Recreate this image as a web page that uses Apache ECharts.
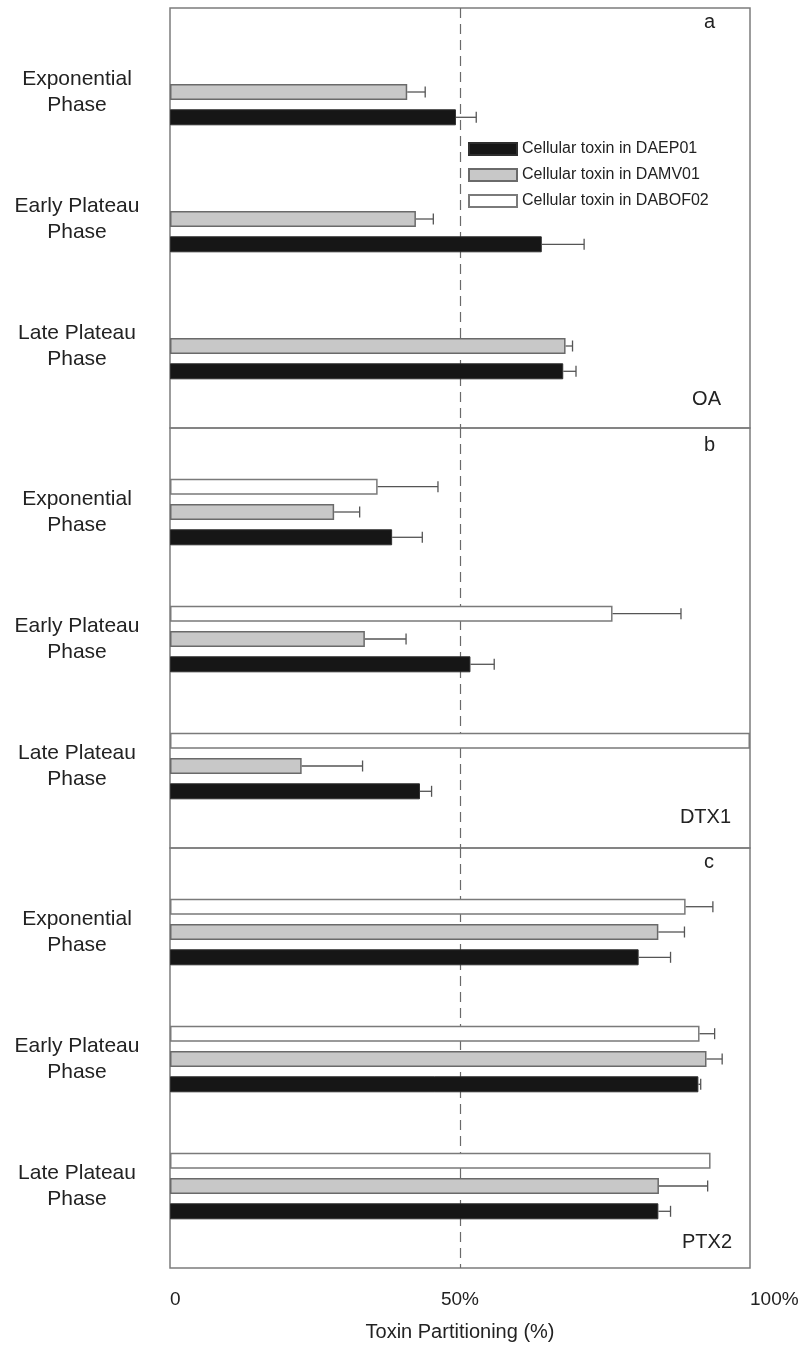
<!DOCTYPE html>
<html>
<head>
<meta charset="utf-8">
<script src="https://cdn.jsdelivr.net/npm/echarts@6/dist/echarts.min.js"></script>
<style>html,body{margin:0;padding:0;background:#fff}#c{width:799px;height:1347px}</style>
</head>
<body>
<div id="c"></div>
<script>
// ---------- data ----------
const categories = ['Exponential\nPhase', 'Early Plateau\nPhase', 'Late Plateau\nPhase'];
const seriesNames = ['Cellular toxin in DABOF02', 'Cellular toxin in DAMV01', 'Cellular toxin in DAEP01'];
const legendOrder = ['Cellular toxin in DAEP01', 'Cellular toxin in DAMV01', 'Cellular toxin in DABOF02'];
const panelLetters = ['a', 'b', 'c'];
const panelToxins = ['OA', 'DTX1', 'PTX2'];
const xTicks = [0, 50, 100];

// OA
const oaDABOF02 = [null, null, null];
const oaDABOF02Err = [null, null, null];
const oaDAMV01 = [40.9, 42.4, 68.2];
const oaDAMV01Err = [3.1, 3.0, 1.2];
const oaDAEP01 = [49.3, 64.1, 67.8];
const oaDAEP01Err = [3.5, 7.3, 2.2];
// DTX1
const dtxDABOF02 = [35.8, 76.3, 100];
const dtxDABOF02Err = [10.4, 11.8, 0];
const dtxDAMV01 = [28.3, 33.6, 22.7];
const dtxDAMV01Err = [4.4, 7.1, 10.5];
const dtxDAEP01 = [38.3, 51.8, 43.1];
const dtxDAEP01Err = [5.2, 4.1, 2.0];
// PTX2
const ptxDABOF02 = [88.9, 91.3, 93.2];
const ptxDABOF02Err = [4.7, 2.6, 0];
const ptxDAMV01 = [84.2, 92.5, 84.3];
const ptxDAMV01Err = [4.5, 2.7, 8.4];
const ptxDAEP01 = [80.8, 91.1, 84.2];
const ptxDAEP01Err = [5.5, 0.4, 2.1];

const panels = [
  [[oaDABOF02, oaDABOF02Err], [oaDAMV01, oaDAMV01Err], [oaDAEP01, oaDAEP01Err]],
  [[dtxDABOF02, dtxDABOF02Err], [dtxDAMV01, dtxDAMV01Err], [dtxDAEP01, dtxDAEP01Err]],
  [[ptxDABOF02, ptxDABOF02Err], [ptxDAMV01, ptxDAMV01Err], [ptxDAEP01, ptxDAEP01Err]]
];

// ---------- styles / layout ----------
const FONT = "'Liberation Sans', Arial, sans-serif";
const barStyles = [
  { color: '#ffffff', borderColor: '#7a7a7a', borderWidth: 1.5 },
  { color: '#c8c8c8', borderColor: '#6a6a6a', borderWidth: 1.5 },
  { color: '#161616', borderColor: '#2e2e2e', borderWidth: 1 }
];
const BAR_W = 16, BAR_GAP = 9.3;
const panelTop = [8, 428, 848], panelH = 420, left = 170, width = 580;
const dataOff = 20.5, dataH = 381;

const grid = [], xAxis = [], yAxis = [], series = [], title = [];
panels.forEach((p, pi) => {
  // frame grid
  grid.push({ left: left, width: width, top: panelTop[pi], height: panelH, show: true,
    borderColor: '#7c7c7c', borderWidth: 1.5, backgroundColor: 'transparent',
    containLabel: false, outerBoundsMode: 'none' });
  // data grid
  grid.push({ left: left, width: width, top: panelTop[pi] + dataOff, height: dataH, show: false,
    containLabel: false, outerBoundsMode: 'none' });
  const fg = pi * 2, dg = pi * 2 + 1;
  const isLast = pi === panels.length - 1;
  xAxis.push({ gridIndex: fg, type: 'value', min: 0, max: 100, interval: 50,
    axisLine: { show: false }, axisTick: { show: false },
    splitLine: { show: true, lineStyle: { color: ['rgba(0,0,0,0)', '#6a6a6a', 'rgba(0,0,0,0)'], type: [10, 6], width: 1.2 } },
    axisLabel: { show: isLast, fontFamily: FONT, fontSize: 19, color: '#222', margin: 22,
      alignMinLabel: 'left', alignMaxLabel: 'left',
      formatter: v => (v === 0 ? '0' : v + '%') },
    name: isLast ? 'Toxin Partitioning (%)' : '', nameLocation: 'middle', nameGap: 54,
    nameTextStyle: { fontFamily: FONT, fontSize: 20, color: '#222' } });
  yAxis.push({ gridIndex: fg, type: 'value', min: 0, max: 1, show: false });
  xAxis.push({ gridIndex: dg, type: 'value', min: 0, max: 100, show: false });
  yAxis.push({ gridIndex: dg, type: 'category', data: categories, inverse: true,
    axisLine: { show: false }, axisTick: { show: false },
    axisLabel: { fontFamily: FONT, fontSize: 21, color: '#222', align: 'center', margin: 93, lineHeight: 26 } });
  const xi = pi * 2 + 1, yi = pi * 2 + 1;
  p.forEach((s, k) => {
    series.push({ type: 'bar', name: seriesNames[k], xAxisIndex: xi, yAxisIndex: yi,
      data: s[0], barWidth: BAR_W, barGap: (BAR_GAP / BAR_W * 100) + '%',
      itemStyle: barStyles[k], silent: true, z: 3 });
  });
  p.forEach((s, k) => {
    const off = (k - 1) * (BAR_W + BAR_GAP);
    series.push({ type: 'custom', name: 'err' + pi + k, xAxisIndex: xi, yAxisIndex: yi,
      data: s[0].map((v, i) => [v, i, s[1][i]]), encode: { x: 0, y: 1 }, silent: true, z: 4,
      renderItem: (params, api) => {
        const v = api.value(0), e = api.value(2);
        if (v == null || isNaN(v) || !e) return null;
        const a = api.coord([v, api.value(1)]);
        const b = api.coord([v + e, api.value(1)]);
        const y = a[1] + off;
        const st = { stroke: '#555', lineWidth: 1.3 };
        return { type: 'group', children: [
          { type: 'line', shape: { x1: a[0], y1: y, x2: b[0], y2: y }, style: st },
          { type: 'line', shape: { x1: b[0], y1: y - 5.5, x2: b[0], y2: y + 5.5 }, style: st }
        ] };
      } });
  });
});

const letterTop = [12, 435, 852];
const toxinTop = [389, 807, 1232];
const toxinRight = [78, 68, 67];
panelLetters.forEach((t, i) => title.push({ text: t, left: 704, top: letterTop[i], padding: 0,
  textStyle: { fontFamily: FONT, fontSize: 20, fontWeight: 'normal', color: '#222' } }));
panelToxins.forEach((t, i) => title.push({ text: t, right: toxinRight[i], top: toxinTop[i], padding: 0,
  textStyle: { fontFamily: FONT, fontSize: 20, fontWeight: 'normal', color: '#222' } }));

const chart = echarts.init(document.getElementById('c'), null, { renderer: 'canvas' });
chart.setOption({
  animation: false,
  backgroundColor: '#fff',
  title: title,
  legend: { data: legendOrder, orient: 'vertical', left: 468, top: 141, icon: 'rect',
    itemWidth: 48, itemHeight: 12, itemGap: 10, padding: 0, selectedMode: false,
    textStyle: { fontFamily: FONT, fontSize: 16, color: '#222', lineHeight: 16 } },
  grid: grid, xAxis: xAxis, yAxis: yAxis, series: series
});
</script>
</body>
</html>
